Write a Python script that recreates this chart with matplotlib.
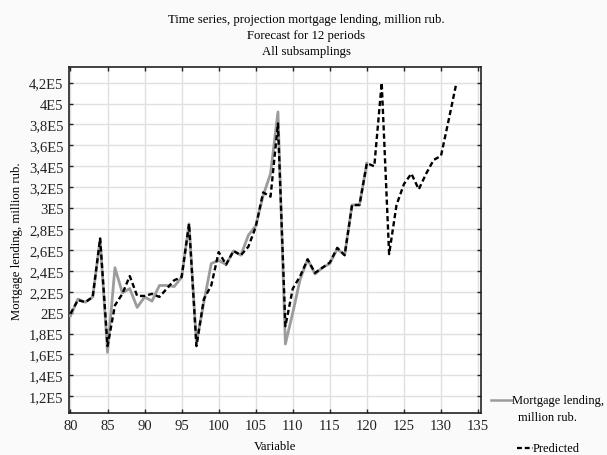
import numpy as np
import matplotlib
matplotlib.use("Agg")
import matplotlib.pyplot as plt
from matplotlib.lines import Line2D
from matplotlib.ticker import FuncFormatter

plt.rcParams['font.family'] = ['Liberation Serif', 'DejaVu Serif']

# observed series, periods 80..120
obs_x = list(range(80, 121))
obs_y = [1.97, 2.13, 2.10, 2.15, 2.70, 1.62, 2.43, 2.19, 2.23, 2.05,
         2.15, 2.11, 2.26, 2.26, 2.25, 2.34, 2.85, 1.71, 2.10, 2.47,
         2.50, 2.46, 2.59, 2.55, 2.74, 2.83, 3.12, 3.33, 3.92, 1.70,
         2.00, 2.32, 2.51, 2.37, 2.43, 2.47, 2.61, 2.55, 3.03, 3.03,
         3.43]

# predicted series incl. 12 period forecast, periods 80..132
pred_x = list(range(80, 133))
pred_y = [1.99, 2.12, 2.10, 2.15, 2.71, 1.68, 2.07, 2.18, 2.35, 2.16,
          2.16, 2.18, 2.15, 2.23, 2.31, 2.34, 2.85, 1.68, 2.13, 2.26,
          2.58, 2.46, 2.59, 2.55, 2.63, 2.82, 3.15, 3.11, 3.81, 1.87,
          2.23, 2.35, 2.51, 2.38, 2.43, 2.48, 2.62, 2.55, 3.03, 3.03,
          3.43, 3.40, 4.20, 2.56, 3.03, 3.23, 3.33, 3.18, 3.33, 3.46,
          3.50, 3.83, 4.17]

obs_y = np.array(obs_y) * 1e5
pred_y = np.array(pred_y) * 1e5

yticks = np.arange(1.2e5, 4.21e5, 0.2e5)
xticks = list(range(80, 136, 5))

fig = plt.figure(figsize=(6.07, 4.56), dpi=100, facecolor='#fafafa')
ax = fig.add_axes([69/607, 1 - 414/456, (481 - 69)/607, (414 - 68)/456])
ax.set_facecolor('white')

ax.plot(obs_x, obs_y, color='#9c9c9c', lw=2.0, zorder=3)
ax.plot(pred_x, pred_y, color='black', lw=1.7, ls=(0, (2.2, 1.3)), zorder=4)

ax.set_xlim(79.8, 135.4)
ax.set_ylim(1.04e5, 4.35e5)
ax.set_xticks(xticks)
ax.set_yticks(yticks)

def fmt(v, pos):
    s = '%g' % round(v / 1e5, 2)
    return s.replace('.', ',') + 'E5'

ax.yaxis.set_major_formatter(FuncFormatter(fmt))
ax.grid(True, color='#e0e0e0', lw=1.0, zorder=0)
ax.tick_params(direction='in', top=True, right=True, length=3, width=1,
               labelsize=10.5, colors='#222222', pad=4)
for sp in ax.spines.values():
    sp.set_linewidth(1.2)
    sp.set_color('#222222')

ax.set_xlabel('Variable', fontsize=9.2, labelpad=6)
ax.set_ylabel('Mortgage lending, million rub.', fontsize=9.2, labelpad=4)

fig.text(306/607, 1 - 20/456, 'Time series, projection mortgage lending, million rub.',
         ha='center', va='center', fontsize=9.2)
fig.text(306/607, 1 - 36/456, 'Forecast for 12 periods', ha='center', va='center', fontsize=9.2)
fig.text(306/607, 1 - 52/456, 'All subsamplings', ha='center', va='center', fontsize=9.2)

# legend outside the plot, bottom right
fig.add_artist(Line2D([491/607, 512/607], [1 - 401/456, 1 - 401/456],
                      color='#9c9c9c', lw=1.8))
fig.text(512/607, 1 - 401/456, 'Mortgage lending,', ha='left', va='center', fontsize=8.9)
fig.text(518/607, 1 - 418/456, 'million rub.', ha='left', va='center', fontsize=8.9)
fig.add_artist(Line2D([517/607, 533/607], [1 - 449/456, 1 - 449/456],
                      color='black', lw=1.6, ls=(0, (2.2, 1.3))))
fig.text(533/607, 1 - 449/456, 'Predicted', ha='left', va='center', fontsize=8.9)

fig.savefig('out.png', dpi=100, facecolor=fig.get_facecolor())
